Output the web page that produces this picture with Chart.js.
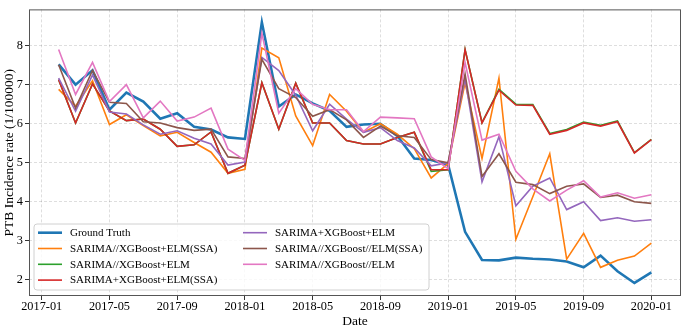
<!DOCTYPE html>
<html>
<head>
<meta charset="utf-8">
<script src="https://cdn.jsdelivr.net/npm/chart.js@4/dist/chart.umd.min.js"></script>
<style>
  html, body { margin: 0; padding: 0; background: #fff; }
  #wrap { width: 684px; height: 328px; position: relative; }
</style>
</head>
<body>
<div id="wrap"><canvas id="c"></canvas></div>
<script>
// 월별 데이터 (월말 기준, 2017-01 ~ 2019-12)
const months = [
  '2017-01','2017-02','2017-03','2017-04','2017-05','2017-06','2017-07','2017-08','2017-09','2017-10','2017-11','2017-12',
  '2018-01','2018-02','2018-03','2018-04','2018-05','2018-06','2018-07','2018-08','2018-09','2018-10','2018-11','2018-12',
  '2019-01','2019-02','2019-03','2019-04','2019-05','2019-06','2019-07','2019-08','2019-09','2019-10','2019-11','2019-12'
];
const xTicks = [0, 4, 8, 12, 16, 20, 24, 28, 32, 36];
const xTickLabels = ['2017-01','2017-05','2017-09','2018-01','2018-05','2018-09','2019-01','2019-05','2019-09','2020-01'];
const yTicks = [2, 3, 4, 5, 6, 7, 8];

const groundTruth = [7.52,7.0,7.37,6.36,6.8,6.57,6.13,6.27,5.92,5.85,5.65,5.61,8.6,6.44,6.75,6.52,6.33,5.92,5.98,6.0,5.69,5.11,5.07,4.95,3.23,2.51,2.5,2.57,2.54,2.52,2.47,2.32,2.62,2.22,1.92,2.19];
const parSsa      = [6.88,6.45,7.1,5.98,6.23,5.95,5.69,5.78,5.52,5.27,4.73,4.83,7.94,7.69,6.2,5.44,6.75,6.32,5.78,6.0,5.73,5.36,4.61,4.98,7.05,5.11,7.17,3.04,4.13,5.23,2.53,3.19,2.32,2.5,2.61,2.94];
const parElm      = [7.13,6.02,7.02,6.33,6.08,6.12,5.86,5.42,5.46,5.79,4.73,4.94,7.05,5.86,7.04,6.02,6.02,5.57,5.48,5.48,5.65,5.78,4.78,4.82,7.9,6.03,6.88,6.5,6.49,5.75,5.85,6.04,5.96,6.07,5.26,5.6];
const serSsa      = [7.13,6.02,7.02,6.33,6.08,6.12,5.86,5.42,5.46,5.79,4.73,4.94,7.05,5.86,7.04,6.02,6.02,5.57,5.48,5.48,5.65,5.78,4.82,4.82,7.9,6.02,6.86,6.48,6.47,5.73,5.83,6.02,5.94,6.05,5.25,5.59];
const serElm      = [7.17,6.32,7.25,6.3,6.25,5.97,5.73,5.82,5.63,5.48,4.94,5.02,7.7,7.36,6.73,5.82,6.5,6.12,5.78,5.9,5.57,5.38,4.92,5.0,7.15,4.51,5.67,3.9,4.4,4.61,3.8,4.0,3.52,3.59,3.5,3.54];
const allParSsa   = [7.51,6.4,7.37,6.55,6.52,6.05,6.02,5.9,5.83,5.86,5.15,5.11,7.65,6.9,6.67,6.19,6.36,6.1,5.65,5.94,5.69,5.65,5.08,5.0,7.27,4.65,5.23,4.5,4.44,4.21,4.4,4.46,4.11,4.17,4.0,3.96];
const allParElm   = [7.9,6.75,7.57,6.57,7.0,6.15,6.58,6.07,6.17,6.4,5.35,5.06,8.32,6.27,6.9,6.5,6.36,6.36,5.8,6.17,6.15,6.13,5.15,4.85,7.57,5.58,5.73,4.78,4.33,4.02,4.3,4.54,4.12,4.23,4.09,4.18];

const seriesDefs = [
  { label: 'Ground Truth', values: groundTruth, color: '#1f77b4', width: 2.6 },
  { label: 'SARIMA//XGBoost+ELM(SSA)', values: parSsa, color: '#ff7f0e', width: 1.6 },
  { label: 'SARIMA//XGBoost+ELM', values: parElm, color: '#2ca02c', width: 1.6 },
  { label: 'SARIMA+XGBoost+ELM(SSA)', values: serSsa, color: '#d62728', width: 1.6 },
  { label: 'SARIMA+XGBoost+ELM', values: serElm, color: '#9467bd', width: 1.6 },
  { label: 'SARIMA//XGBoost//ELM(SSA)', values: allParSsa, color: '#8c564b', width: 1.6 },
  { label: 'SARIMA//XGBoost//ELM', values: allParElm, color: '#e377c2', width: 1.6 }
];

const serif = "'Liberation Serif', 'DejaVu Serif', serif";

// 축 테두리 + 2열 범례
const framePlugin = {
  id: 'frameLegend',
  afterDatasetsDraw(chart) {
    const { ctx, chartArea: a } = chart;
    ctx.save();
    ctx.strokeStyle = '#555';
    ctx.lineWidth = 1;
    ctx.strokeRect(a.left + 0.5, a.top + 0.5, a.right - a.left - 1, a.bottom - a.top - 1);

    // legend box
    const bx = 34, by = 224, bw = 395, bh = 66, r = 3;
    ctx.beginPath();
    ctx.moveTo(bx + r, by);
    ctx.arcTo(bx + bw, by, bx + bw, by + bh, r);
    ctx.arcTo(bx + bw, by + bh, bx, by + bh, r);
    ctx.arcTo(bx, by + bh, bx, by, r);
    ctx.arcTo(bx, by, bx + bw, by, r);
    ctx.closePath();
    ctx.fillStyle = 'rgba(255,255,255,0.8)';
    ctx.fill();
    ctx.strokeStyle = '#d0d0d0';
    ctx.stroke();

    ctx.font = '11px ' + serif;
    ctx.textBaseline = 'middle';
    ctx.fillStyle = '#000';
    chart.data.datasets.forEach((ds, i) => {
      const col = i < 4 ? 0 : 1;
      const row = i < 4 ? i : i - 4;
      const hx = col ? 243 : 38;
      const y = 232.7 + row * 15.8;
      ctx.beginPath();
      ctx.strokeStyle = ds.borderColor;
      ctx.lineWidth = ds.borderWidth;
      ctx.moveTo(hx, y);
      ctx.lineTo(hx + 24, y);
      ctx.stroke();
      ctx.fillText(ds.label, hx + 32, y + 0.5);
    });
    ctx.restore();
  }
};

const datasets = seriesDefs.map((s, i) => ({
  label: s.label,
  data: s.values.map((v, k) => ({ x: k + 1, y: v })),
  borderColor: s.color,
  backgroundColor: s.color,
  borderWidth: s.width,
  pointRadius: 0,
  tension: 0,
  fill: false,
  order: seriesDefs.length - i
}));

new Chart(document.getElementById('c'), {
  type: 'line',
  data: { datasets },
  options: {
    responsive: true,
    maintainAspectRatio: false,
    animation: false,
    layout: { padding: { left: 0, right: 3, top: 2, bottom: 0 } },
    plugins: { legend: { display: false }, tooltip: { enabled: false } },
    scales: {
      x: {
        type: 'linear',
        min: -0.75,
        max: 37.75,
        afterBuildTicks: (axis) => { axis.ticks = xTicks.map(v => ({ value: v })); },
        afterFit: (axis) => { axis.height = 32; },
        ticks: {
          autoSkip: false,
          maxRotation: 0,
          padding: -1,
          color: '#000',
          font: { family: serif, size: 12.3 },
          callback: (v) => xTickLabels[xTicks.indexOf(v)]
        },
        grid: { color: 'rgba(0,0,0,0.13)', tickColor: '#333', tickLength: 4, tickBorderDash: [] },
        border: { display: false, dash: [3, 2] },
        title: { display: true, text: 'Date', color: '#000', font: { family: serif, size: 13.5 }, padding: { top: 0, bottom: -1.5 } }
      },
      y: {
        min: 1.586,
        max: 8.93,
        afterBuildTicks: (axis) => { axis.ticks = yTicks.map(v => ({ value: v })); },
        afterFit: (axis) => { axis.width = 29; },
        ticks: {
          padding: 2,
          color: '#000',
          font: { family: serif, size: 12.3 },
          callback: (v) => String(v)
        },
        grid: { color: 'rgba(0,0,0,0.13)', tickColor: '#333', tickLength: 4, tickBorderDash: [] },
        border: { display: false, dash: [3, 2] },
        title: { display: true, text: 'PTB Incidence rate (1/100000)', color: '#000', font: { family: serif, size: 13.5 }, padding: { top: 1.5, bottom: 0 } }
      }
    }
  },
  plugins: [framePlugin]
});
</script>
</body>
</html>
